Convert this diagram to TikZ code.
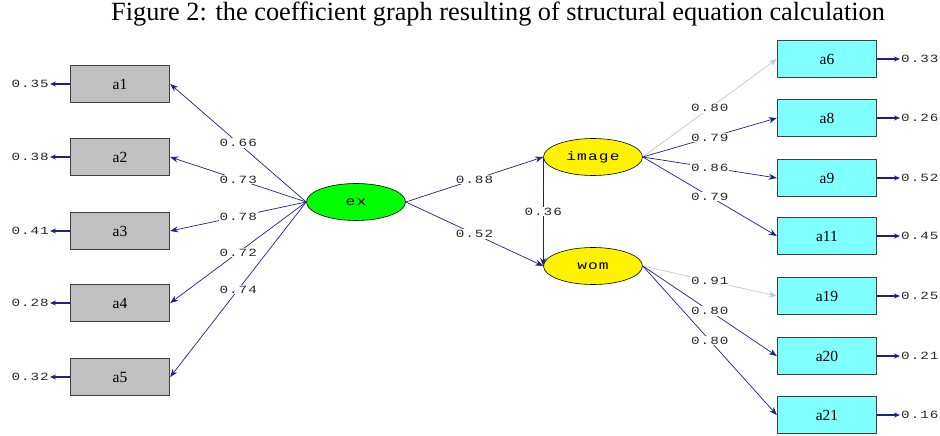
\documentclass[tikz,border=0pt]{standalone}
\usepackage{fontspec}
\setmainfont{Liberation Serif}
\newfontfamily\lismono[FakeStretch=1.3, LetterSpace=9]{Liberation Mono}
\usepackage{xcolor}
\usetikzlibrary{arrows.meta, positioning, shapes.geometric}
\definecolor{pathblue}{RGB}{30,30,140}
\definecolor{boxgray}{RGB}{192,192,192}
\definecolor{boxcyan}{RGB}{128,255,255}

\begin{document}
\begin{tikzpicture}[
  x=1pt, y=-1pt,
  >={Stealth[length=8pt, width=6pt]},
  xbox/.style={draw=black!75, line width=1.4pt, fill=#1, minimum width=99pt,
               minimum height=37pt, inner sep=0pt, font=\fontsize{15.5}{15.5}\selectfont},
  latent/.style={ellipse, draw=black, line width=0.6pt, fill=#1, minimum width=99pt,
                 minimum height=37pt, inner sep=0pt,
                 font=\lismono\fontsize{12.5}{12.5}\selectfont},
  coef/.style={fill=white, inner sep=1pt, text=black!85,
               font=\lismono\fontsize{11}{11}\selectfont},
  errval/.style={inner sep=1pt, text=black!85, font=\lismono\fontsize{11}{11}\selectfont},
  load/.style={->, draw=pathblue, line width=0.7pt},
  faint/.style={->, draw=black!22, line width=0.7pt},
  errarr/.style={-{Stealth[length=6pt, width=5pt]}, draw=pathblue, line width=1.6pt},
]
  \useasboundingbox (0,0) rectangle (940,436);

  \node[anchor=base, font=\fontsize{26.3}{26.3}\selectfont] (title) at (498,21)
    {Figure 2: the coefficient graph resulting of structural equation calculation};

  % --- latent variables -------------------------------------------
  \node[latent=green] (ex) at (356,202) {ex};
  \node[latent=yellow] (image) at (593,157) {image};
  \node[latent=yellow] (wom) at (593,266) {wom};

  % --- indicators of ex (left) ------------------------------------
  \node[xbox=boxgray] (a1) at (120,84) {a1};
  \node[xbox=boxgray] (a2) at (120,157) {a2};
  \node[xbox=boxgray] (a3) at (120,231) {a3};
  \node[xbox=boxgray] (a4) at (120,303) {a4};
  \node[xbox=boxgray] (a5) at (120,377) {a5};

  % --- indicators of image and wom (right) ------------------------
  \node[xbox=boxcyan] (a6) at (827,59) {a6};
  \node[xbox=boxcyan] (a8) at (827,118) {a8};
  \node[xbox=boxcyan] (a9) at (827,178) {a9};
  \node[xbox=boxcyan] (a11) at (827,236) {a11};
  \node[xbox=boxcyan] (a19) at (827,296) {a19};
  \node[xbox=boxcyan] (a20) at (827,356) {a20};
  \node[xbox=boxcyan] (a21) at (827,415) {a21};

  % --- error variances ---------------------------------------------
  \node[errval, anchor=east] (e1) at (50,84) {0.35};
  \node[errval, anchor=east] (e2) at (50,157) {0.38};
  \node[errval, anchor=east] (e3) at (50,231) {0.41};
  \node[errval, anchor=east] (e4) at (50,303) {0.28};
  \node[errval, anchor=east] (e5) at (50,377) {0.32};
  \node[errval, anchor=west] (e6) at (900,59) {0.33};
  \node[errval, anchor=west] (e8) at (900,118) {0.26};
  \node[errval, anchor=west] (e9) at (900,178) {0.52};
  \node[errval, anchor=west] (e11) at (900,236) {0.45};
  \node[errval, anchor=west] (e19) at (900,296) {0.25};
  \node[errval, anchor=west] (e20) at (900,356) {0.21};
  \node[errval, anchor=west] (e21) at (900,415) {0.16};

  \draw[errarr] (a1) -- (e1);
  \draw[errarr] (a2) -- (e2);
  \draw[errarr] (a3) -- (e3);
  \draw[errarr] (a4) -- (e4);
  \draw[errarr] (a5) -- (e5);
  \draw[errarr] (a6) -- (e6);
  \draw[errarr] (a8) -- (e8);
  \draw[errarr] (a9) -- (e9);
  \draw[errarr] (a11) -- (e11);
  \draw[errarr] (a19) -- (e19);
  \draw[errarr] (a20) -- (e20);
  \draw[errarr] (a21) -- (e21);

  % --- loadings ------------------------------------------------------
  \draw[load] (ex.west) -- node[coef] {0.66} (a1.east);
  \draw[load] (ex.west) -- node[coef] {0.73} (a2.east);
  \draw[load] (ex.west) -- node[coef] {0.78} (a3.east);
  \draw[load] (ex.west) -- node[coef] {0.72} (a4.east);
  \draw[load] (ex.west) -- node[coef] {0.74} (a5.east);

  \draw[faint] (image.east) -- node[coef] {0.80} (a6.west);
  \draw[load] (image.east) -- node[coef] {0.79} (a8.west);
  \draw[load] (image.east) -- node[coef] {0.86} (a9.west);
  \draw[load] (image.east) -- node[coef] {0.79} (a11.west);

  \draw[faint] (wom.east) -- node[coef] {0.91} (a19.west);
  \draw[load] (wom.east) -- node[coef] {0.80} (a20.west);
  \draw[load] (wom.east) -- node[coef] {0.80} (a21.west);

  % --- structural paths ---------------------------------------------
  \draw[load] (ex.east) -- node[coef] {0.88} (image.west);
  \draw[load] (ex.east) -- node[coef] {0.52} (wom.west);
  \draw[load] (image.west) -- node[coef] {0.36} (wom.west);
\end{tikzpicture}
\end{document}
